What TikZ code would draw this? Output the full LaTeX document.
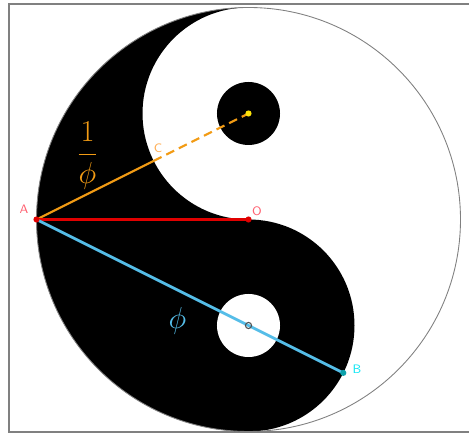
\documentclass[tikz,border=0pt]{standalone}
\usepackage{amsmath,amssymb}
\usetikzlibrary{calc}
\definecolor{goldline}{HTML}{F29B14}
\definecolor{goldtext}{HTML}{FFAE55}
\definecolor{redline}{HTML}{E00000}
\definecolor{redtext}{HTML}{FF6070}
\definecolor{skyline}{HTML}{55BDE8}
\definecolor{skytext}{HTML}{12E6F4}
\definecolor{framegray}{HTML}{808080}

\begin{document}
\begin{tikzpicture}[
    every node/.style={font=\sffamily\scriptsize},
  ]

  % Page and frame
  \useasboundingbox (-4.97,-4.31) rectangle (4.41,4.39);
  \draw[framegray, line width=1.3pt] (-4.79,-4.25) rectangle (4.70,4.31);

  % --- Points ---
  \coordinate (O) at (0,0);
  \coordinate (A) at (-4.24,0);
  \coordinate (P) at (0, 2.12);  % centre of the upper lobe
  \coordinate (Q) at (0,-2.12);  % centre of the lower lobe
  \coordinate (C) at ($(P)!2.12cm!(A)$);
  \coordinate (B) at ($(Q)!-2.12cm!(A)$);

  % --- Yin and yang ---
  \fill[black] (0,4.24) arc[start angle=90, end angle=270, radius=4.24]
    arc[start angle=-90, end angle=90, radius=2.12]
    arc[start angle=270, end angle=90, radius=2.12] -- cycle;
  \draw[framegray, line width=0.5pt] (O) circle (4.24);
  \fill[black] (P) circle (0.63);
  \fill[white] (Q) circle (0.63);

  % --- Styles ---
  \tikzset{
    seg/.style={line width=1.2pt},
    dot/.style={circle, inner sep=0pt, minimum size=3.5pt},
  }

  % --- Segments ---
  \draw[seg, goldline] (A) -- (C);
  \draw[seg, goldline, dash pattern=on 5pt off 3pt] (C) -- (P);
  \draw[seg, redline] (A) -- (O);
  \draw[seg, skyline, line width=1.6pt] (A) -- (B);

  % --- Point markers ---
  \node[dot, fill=redline] (mA) at (A) {};
  \node[dot, fill=redline] (mO) at (O) {};
  \node[dot, fill=skytext!70!black] (mB) at (B) {};
  \node[dot, fill=yellow!80!goldline] (mP) at (P) {};
  \node[dot, draw=gray!60!black, line width=0.6pt] (mQ) at (Q) {};

  % --- Point labels ---
  \node[text=redtext] (lA) at (-4.49,0.21) {A};
  \node[text=redtext] (lO) at (0.17,0.17) {O};
  \node[text=goldtext] (lC) at (-1.81,1.43) {C};
  \node[text=skytext] (lB) at (2.17,-2.99) {B};

  % --- Lengths ---
  \node[text=goldline, font=\LARGE] (lfrac) at (-3.22,1.28) {$\dfrac{1}{\phi}$};
  \node[text=skyline, font=\LARGE] (lphi) at (-1.42,-2.03) {$\phi$};

\end{tikzpicture}
\end{document}
